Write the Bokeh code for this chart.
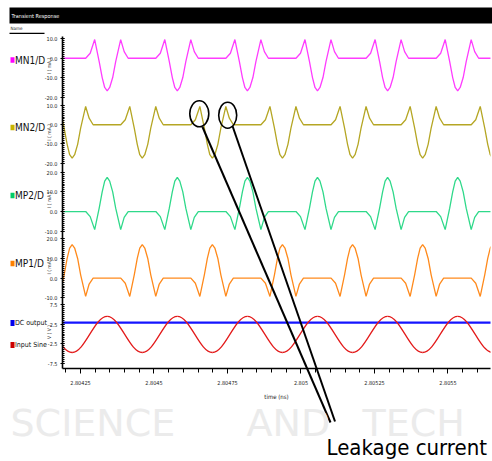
import numpy as np
from bokeh.plotting import figure
from bokeh.models import Range1d, FixedTicker, Label
from bokeh.embed import file_html
from bokeh.resources import INLINE

# ---------------- data ----------------
# time (ms) grid shared by MN1/D and MP2/D (features around the sine peaks)
t_grid_a = [
    2.8041880,
    2.8042677, 2.8042830, 2.8042983, 2.8043136, 2.8043238, 2.8043323, 2.8043408, 2.8043493, 2.8043595, 2.8043697, 2.8043867, 2.8043986, 2.8044122,
    2.8045062, 2.8045215, 2.8045368, 2.8045521, 2.8045623, 2.8045708, 2.8045793, 2.8045878, 2.8045980, 2.8046082, 2.8046252, 2.8046371, 2.8046507,
    2.8047446, 2.8047599, 2.8047752, 2.8047905, 2.8048007, 2.8048092, 2.8048177, 2.8048262, 2.8048364, 2.8048466, 2.8048636, 2.8048755, 2.8048891,
    2.8049830, 2.8049983, 2.8050136, 2.8050289, 2.8050391, 2.8050476, 2.8050561, 2.8050646, 2.8050748, 2.8050850, 2.8051020, 2.8051139, 2.8051275,
    2.8052215, 2.8052368, 2.8052521, 2.8052674, 2.8052776, 2.8052861, 2.8052946, 2.8053031, 2.8053133, 2.8053235, 2.8053405, 2.8053524, 2.8053660,
    2.8054599, 2.8054752, 2.8054905, 2.8055058, 2.8055160, 2.8055245, 2.8055330, 2.8055415, 2.8055517, 2.8055619, 2.8055789, 2.8055908, 2.8056044,
    2.8056460,
]
mn1_ma = [
    0.0,
    0.0, 2.6, 9.6, -1.7, -9.9, -15.0, -16.7, -15.0, -9.9, -1.7, 9.6, 3.4, 0.0,
    0.0, 2.6, 9.6, -1.7, -9.9, -15.0, -16.7, -15.0, -9.9, -1.7, 9.6, 3.4, 0.0,
    0.0, 2.6, 9.6, -1.7, -9.9, -15.0, -16.7, -15.0, -9.9, -1.7, 9.6, 3.4, 0.0,
    0.0, 2.6, 9.6, -1.7, -9.9, -15.0, -16.7, -15.0, -9.9, -1.7, 9.6, 3.4, 0.0,
    0.0, 2.6, 9.6, -1.7, -9.9, -15.0, -16.7, -15.0, -9.9, -1.7, 9.6, 3.4, 0.0,
    0.0, 2.6, 9.6, -1.7, -9.9, -15.0, -16.7, -15.0, -9.9, -1.7, 9.6, 3.4, 0.0,
    0.0,
]
mp2_ma = [
    0.0,
    0.0, -2.6, -9.2, 1.7, 10.0, 15.5, 17.4, 15.5, 10.0, 1.7, -9.2, -3.0, 0.0,
    0.0, -2.6, -9.2, 1.7, 10.0, 15.5, 17.4, 15.5, 10.0, 1.7, -9.2, -3.0, 0.0,
    0.0, -2.6, -9.2, 1.7, 10.0, 15.5, 17.4, 15.5, 10.0, 1.7, -9.2, -3.0, 0.0,
    0.0, -2.6, -9.2, 1.7, 10.0, 15.5, 17.4, 15.5, 10.0, 1.7, -9.2, -3.0, 0.0,
    0.0, -2.6, -9.2, 1.7, 10.0, 15.5, 17.4, 15.5, 10.0, 1.7, -9.2, -3.0, 0.0,
    0.0, -2.6, -9.2, 1.7, 10.0, 15.5, 17.4, 15.5, 10.0, 1.7, -9.2, -3.0, 0.0,
    0.0,
]

# time (ms) grid shared by MN2/D and MP1/D (features around the sine troughs)
t_grid_b = [
    2.8041485, 2.8041638, 2.8041791, 2.8041944, 2.8042046, 2.8042131, 2.8042216, 2.8042301, 2.8042403, 2.8042505, 2.8042675, 2.8042794, 2.8042930,
    2.8043870, 2.8044023, 2.8044176, 2.8044329, 2.8044431, 2.8044516, 2.8044601, 2.8044686, 2.8044788, 2.8044890, 2.8045060, 2.8045179, 2.8045315,
    2.8046254, 2.8046407, 2.8046560, 2.8046713, 2.8046815, 2.8046900, 2.8046985, 2.8047070, 2.8047172, 2.8047274, 2.8047444, 2.8047563, 2.8047699,
    2.8048638, 2.8048791, 2.8048944, 2.8049097, 2.8049199, 2.8049284, 2.8049369, 2.8049454, 2.8049556, 2.8049658, 2.8049828, 2.8049947, 2.8050083,
    2.8051023, 2.8051176, 2.8051329, 2.8051482, 2.8051584, 2.8051669, 2.8051754, 2.8051839, 2.8051941, 2.8052043, 2.8052213, 2.8052332, 2.8052468,
    2.8053407, 2.8053560, 2.8053713, 2.8053866, 2.8053968, 2.8054053, 2.8054138, 2.8054223, 2.8054325, 2.8054427, 2.8054597, 2.8054716, 2.8054852,
    2.8055791, 2.8055944, 2.8056097, 2.8056250, 2.8056352, 2.8056437, 2.8056522,
]
mn2_ma = [
    0.0, 2.6, 9.5, -1.8, -10.2, -15.6, -17.4, -15.6, -10.2, -1.8, 9.5, 3.4, 0.0,
    0.0, 2.6, 9.5, -1.8, -10.2, -15.6, -17.4, -15.6, -10.2, -1.8, 9.5, 3.4, 0.0,
    0.0, 2.6, 9.5, -1.8, -10.2, -15.6, -17.4, -15.6, -10.2, -1.8, 9.5, 3.4, 0.0,
    0.0, 2.6, 9.5, -1.8, -10.2, -15.6, -17.4, -15.6, -10.2, -1.8, 9.5, 3.4, 0.0,
    0.0, 2.6, 9.5, -1.8, -10.2, -15.6, -17.4, -15.6, -10.2, -1.8, 9.5, 3.4, 0.0,
    0.0, 2.6, 9.5, -1.8, -10.2, -15.6, -17.4, -15.6, -10.2, -1.8, 9.5, 3.4, 0.0,
    0.0, 2.6, 9.5, -1.8, -10.2, -15.6, -17.4,
]
mp1_ma = [
    0.0, -2.6, -9.3, 1.7, 10.0, 15.3, 17.1, 15.3, 10.0, 1.7, -9.3, -3.0, 0.0,
    0.0, -2.6, -9.3, 1.7, 10.0, 15.3, 17.1, 15.3, 10.0, 1.7, -9.3, -3.0, 0.0,
    0.0, -2.6, -9.3, 1.7, 10.0, 15.3, 17.1, 15.3, 10.0, 1.7, -9.3, -3.0, 0.0,
    0.0, -2.6, -9.3, 1.7, 10.0, 15.3, 17.1, 15.3, 10.0, 1.7, -9.3, -3.0, 0.0,
    0.0, -2.6, -9.3, 1.7, 10.0, 15.3, 17.1, 15.3, 10.0, 1.7, -9.3, -3.0, 0.0,
    0.0, -2.6, -9.3, 1.7, 10.0, 15.3, 17.1, 15.3, 10.0, 1.7, -9.3, -3.0, 0.0,
    0.0, -2.6, -9.3, 1.7, 10.0, 15.3, 17.1,
]

# input sine: successive extrema (time ms, volts)
sine_ext_t = [2.8041024, 2.8042216, 2.8043408, 2.8044601, 2.8045793, 2.8046985, 2.8048177,
              2.8049369, 2.8050561, 2.8051754, 2.8052946, 2.8054138, 2.8055330, 2.8056522]
sine_ext_v = [4.5, -4.7, 4.5, -4.7, 4.5, -4.7, 4.5, -4.7, 4.5, -4.7, 4.5, -4.7, 4.5, -4.7]
# DC output (volts)
dc_t = [2.8041800, 2.8056500]
dc_v = [2.9, 2.9]

x_tick_values = [2.80425, 2.8045, 2.80475, 2.805, 2.80525, 2.8055]
x_tick_labels = ["2.80425", "2.8045", "2.80475", "2.805", "2.80525", "2.8055"]

panel_value_range = [(-20.0, 10.0), (-20.0, 10.0), (-10.0, 20.0), (-10.0, 20.0), (-7.5, 7.5)]
panel_ticks = [[10.0, 0.0, -10.0, -20.0], [10.0, 0.0, -10.0, -20.0],
               [20.0, 10.0, 0.0, -10.0], [20.0, 10.0, 0.0, -10.0], [7.5, 2.5, -2.5, -7.5]]
panel_tick_labels = [["10.0", "0.0", "-10.0", "-20.0"], ["10.0", "0.0", "-10.0", "-20.0"],
                     ["20.0", "10.0", "0.0", "-10.0"], ["20.0", "10.0", "0.0", "-10.0"],
                     ["7.5", "2.5", "-2.5", "-7.5"]]
panel_minor_step = [1.0, 1.0, 1.0, 1.0, 0.5]
panel_axis_titles = ["I ( mA )", "I ( mA )", "I ( mA )", "I ( mA )", "V ( V )"]

legend_names = ["MN1/D", "MN2/D", "MP2/D", "MP1/D", "DC output", "Input Sine"]
legend_colors = ["#ff00ff", "#c8b400", "#00cc66", "#ff8000", "#0000ee", "#cc0000"]
line_colors = ["#ff3cff", "#b5a624", "#2fd98a", "#ff8a1c", "#1414ff", "#e31b1b"]

# ---------------- layout / style ----------------
W, H = 492, 461
FL, FR, FT, FB = 62, 490, 36, 368
T0, T1 = 2.8041888, 2.8056446
# pixel rows of each panel's (low value, high value)
panel_rows = [(96.7, 38.3), (162.7, 105.0), (230.7, 171.7), (297.3, 238.3), (363.0, 304.0)]
NARROW = "DejaVu Sans Condensed, sans-serif"


def sy(row):
    return H - row


p = figure(width=W, height=H, x_range=Range1d(T0, T1), y_range=Range1d(H - FB, H - FT),
           output_backend="svg", toolbar_location=None,
           min_border_left=FL, min_border_right=W - FR, min_border_top=FT, min_border_bottom=H - FB)
p.xgrid.visible = False
p.ygrid.visible = False
p.outline_line_color = None
p.background_fill_color = "white"
p.border_fill_color = "white"

subs = []
for (lo, hi), (r_lo, r_hi) in zip(panel_value_range, panel_rows):
    subs.append(p.subplot(x_source=p.x_range, y_source=Range1d(lo, hi),
                          x_target=p.x_range, y_target=Range1d(sy(r_lo), sy(r_hi))))

subs[0].line(t_grid_a, mn1_ma, line_color=line_colors[0], line_width=1.3)
subs[1].line(t_grid_b, mn2_ma, line_color=line_colors[1], line_width=1.3)
subs[2].line(t_grid_a, mp2_ma, line_color=line_colors[2], line_width=1.3)
subs[3].line(t_grid_b, mp1_ma, line_color=line_colors[3], line_width=1.3)
subs[4].line(dc_t, dc_v, line_color=line_colors[4], line_width=2.2)

k = 1.0 - 2.0 / np.pi
st = np.array(sine_ext_t)
sv = np.array(sine_ext_v)
x0, x1 = st[:-1], st[1:]
subs[4].bezier(x0=x0, y0=sv[:-1], x1=x1, y1=sv[1:],
               cx0=x0 + k * (x1 - x0), cy0=sv[:-1], cx1=x1 - k * (x1 - x0), cy1=sv[1:],
               line_color=line_colors[5], line_width=1.3)

# y axis with per-panel ticks
y_major, y_minor, y_over = [], [], {}
for (lo, hi), (r_lo, r_hi), ticks, labs, step in zip(panel_value_range, panel_rows, panel_ticks,
                                                     panel_tick_labels, panel_minor_step):
    def m(v, lo=lo, hi=hi, a=sy(r_lo), b=sy(r_hi)):
        return float(a + (v - lo) * (b - a) / (hi - lo))
    for v, lab in zip(ticks, labs):
        y_major.append(m(v))
        y_over[m(v)] = lab
    for v in np.arange(lo, hi + 1e-9, step):
        y_minor.append(m(v))

yax = p.yaxis[0]
yax.ticker = FixedTicker(ticks=y_major, minor_ticks=y_minor)
yax.major_label_overrides = y_over
yax.major_label_text_font = NARROW
yax.major_label_text_font_size = "5.5px"
yax.major_label_text_color = "#222222"
yax.major_label_standoff = 3
yax.axis_line_width = 1.6
yax.axis_line_color = "black"
yax.major_tick_in = 2
yax.major_tick_out = 2
yax.minor_tick_in = 2
yax.minor_tick_out = 0

xax = p.xaxis[0]
xax.ticker = FixedTicker(ticks=x_tick_values,
                         minor_ticks=[round(v, 5) for v in np.arange(2.80420, 2.805651, 0.00005)])
xax.major_label_overrides = {v: s for v, s in zip(x_tick_values, x_tick_labels)}
xax.major_label_text_font = NARROW
xax.major_label_text_font_size = "5.5px"
xax.major_label_text_color = "#222222"
xax.major_label_standoff = 6
xax.axis_label = "time (ns)"
xax.axis_label_text_font = NARROW
xax.axis_label_text_font_size = "6px"
xax.axis_label_text_font_style = "normal"
xax.axis_label_text_color = "#222222"
xax.axis_label_standoff = 5
xax.axis_line_width = 1.6
xax.major_tick_in = 0
xax.major_tick_out = 5
xax.minor_tick_in = 0
xax.minor_tick_out = 4

# ---------------- transparent overlay in canvas pixels (title bar, legend, call-out) ----------------
o = figure(width=W, height=H, x_range=Range1d(0, W), y_range=Range1d(H, 0),
           x_axis_type=None, y_axis_type=None, output_backend="svg", toolbar_location=None,
           min_border=0, min_border_left=0, min_border_right=0, min_border_top=0, min_border_bottom=0)
o.outline_line_color = None
o.background_fill_alpha = 0
o.border_fill_alpha = 0
o.styles = {"position": "absolute", "left": "0px", "top": "0px"}

# watermark words
for word, wx in zip(["SCIENCE", "AND", "TECH"], [10, 246, 362]):
    o.add_layout(Label(x=wx, y=422, text=word, text_font="DejaVu Sans",
                       text_font_size="38px", text_color="#ebebeb", text_baseline="alphabetic"))

# title bar
o.quad(left=[9], right=[492], top=[7], bottom=[23], fill_color="black", line_color=None)
o.add_layout(Label(x=11, y=15.5, text="Transient Response", text_font=NARROW,
                   text_font_size="5.5px", text_color="white", text_baseline="middle"))
o.add_layout(Label(x=10, y=27.5, text="Name", text_font=NARROW,
                   text_font_size="4.5px", text_color="#222222", text_baseline="middle"))
o.quad(left=[9], right=[44], top=[32.3], bottom=[33.5], fill_color="black", line_color=None)

# legend entries (swatch + name)
legend_rows = [59.5, 127.0, 195.0, 263.0, 322.5, 344.5]
legend_sizes = ["10px", "10px", "10px", "10px", "7px", "7px"]
legend_half = [2.8, 2.8, 2.8, 2.8, 3.0, 3.0]
o.quad(left=[10] * 6, right=[14] * 6, top=[r - h for r, h in zip(legend_rows, legend_half)],
       bottom=[r + h for r, h in zip(legend_rows, legend_half)], fill_color=legend_colors, line_color=None)
for name, row, fs in zip(legend_names, legend_rows, legend_sizes):
    o.add_layout(Label(x=14.5, y=row, text=name, text_font=NARROW, text_font_size=fs,
                       text_color="#111111", text_baseline="middle", text_align="left"))

# vertical axis titles per panel
for (r_lo, r_hi), ttl in zip(panel_rows, panel_axis_titles):
    o.add_layout(Label(x=48, y=(r_lo + r_hi) / 2 - 2, text=ttl, angle=np.pi / 2,
                       text_font=NARROW, text_font_size="5px", text_color="#333333",
                       text_align="center", text_baseline="middle"))

# leakage current call-out
callout_x = [198.8, 227.2]
callout_y = [113.3, 114.7]
callout_w = [19.0, 18.0]
callout_h = [26.0, 26.0]
o.ellipse(x=callout_x, y=callout_y, width=callout_w, height=callout_h,
          fill_color=None, line_color="black", line_width=1.6)
o.segment(x0=[202.0, 232.0], y0=[126.5, 125.5], x1=[330.0, 334.5], y1=[422.0, 421.0],
          line_color="black", line_width=2)
o.add_layout(Label(x=326, y=447, text="Leakage current", text_font=NARROW,
                   text_font_size="22px", text_color="black", text_baseline="alphabetic"))

open("out.html", "w").write(file_html([p, o], INLINE))
